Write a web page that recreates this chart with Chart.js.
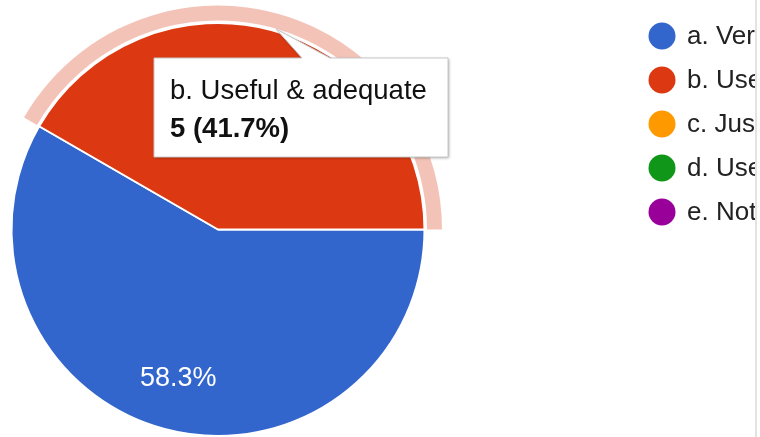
<!DOCTYPE html>
<html>
<head>
<meta charset="utf-8">
<script src="https://cdn.jsdelivr.net/npm/chart.js@4.4.1/dist/chart.umd.min.js"></script>
<style>
body { margin: 0; background: #fff; }
#wrap { position: relative; width: 755px; height: 437px; border-right: 2px solid #e2e2e2; overflow: hidden; }
</style>
</head>
<body>
<div id="wrap"><canvas id="pie" width="755" height="437"></canvas></div>
<script>
var labels = ['a. Very useful', 'b. Useful & adequate', 'c. Just adequate', 'd. Useful but inadequate', 'e. Not useful'];
var counts = [7, 5, 0, 0, 0];
var colors = ['#3366cc', '#dc3912', '#ff9900', '#109618', '#990099'];
var hoverSlice = 1; // slice shown as hovered, with its tooltip

var FONT = 'Arial, "Liberation Sans", sans-serif';

function total() {
    var t = 0;
    for (var i = 0; i < counts.length; i++) t += counts[i];
    return t;
}

// draws the google-style hover ring, slice labels, legend and tooltip
var extras = {
    id: 'extras',
    afterDatasetsDraw: function(chart) {
        var ctx = chart.ctx;
        var meta = chart.getDatasetMeta(0);
        var sum = total();
        ctx.save();

        // ring round the hovered slice
        var arc = meta.data[hoverSlice];
        var r = arc.outerRadius;
        ctx.beginPath();
        ctx.arc(arc.x, arc.y, r + 17.5, arc.startAngle, arc.endAngle);
        ctx.arc(arc.x, arc.y, r + 2.5, arc.endAngle, arc.startAngle, true);
        ctx.closePath();
        ctx.fillStyle = 'rgba(220,57,18,0.3)';
        ctx.fill();

        // percentages inside the slices
        ctx.fillStyle = '#fff';
        ctx.font = '27px ' + FONT;
        ctx.textAlign = 'center';
        ctx.textBaseline = 'middle';
        meta.data.forEach(function(a, i) {
            if (!counts[i]) return;
            var mid = (a.startAngle + a.endAngle) / 2;
            var d = a.outerRadius * 0.745;
            ctx.fillText((counts[i] / sum * 100).toFixed(1) + '%', a.x + Math.cos(mid) * d, a.y + Math.sin(mid) * d);
        });

        // legend
        ctx.textAlign = 'left';
        ctx.font = '26px ' + FONT;
        for (var i = 0; i < labels.length; i++) {
            var y = 36 + i * 44;
            ctx.beginPath();
            ctx.arc(662, y, 13.5, 0, Math.PI * 2);
            ctx.fillStyle = colors[i];
            ctx.fill();
            ctx.fillStyle = '#222';
            ctx.fillText(labels[i], 687, y + 1);
        }

        // tooltip
        var bx = 154, by = 58, bw = 294, bh = 99;
        ctx.beginPath();
        ctx.moveTo(bx, by);
        ctx.lineTo(302, by);
        ctx.lineTo(276, 29);
        ctx.lineTo(330, by);
        ctx.lineTo(bx + bw, by);
        ctx.lineTo(bx + bw, by + bh);
        ctx.lineTo(bx, by + bh);
        ctx.closePath();
        ctx.shadowColor = 'rgba(0,0,0,0.35)';
        ctx.shadowBlur = 3;
        ctx.shadowOffsetX = 1;
        ctx.shadowOffsetY = 1;
        ctx.fillStyle = '#fff';
        ctx.fill();
        ctx.shadowColor = 'transparent';
        ctx.strokeStyle = '#c8c8c8';
        ctx.lineWidth = 1;
        ctx.stroke();

        ctx.fillStyle = '#111';
        ctx.textBaseline = 'alphabetic';
        ctx.font = '27.5px ' + FONT;
        ctx.fillText(labels[hoverSlice], 170, 99);
        ctx.font = 'bold 27.5px ' + FONT;
        ctx.fillText(counts[hoverSlice] + ' (' + (counts[hoverSlice] / sum * 100).toFixed(1) + '%)', 170, 137);

        ctx.restore();
    }
};

new Chart(document.getElementById('pie'), {
    type: 'pie',
    data: {
        labels: labels,
        datasets: [{
            data: counts,
            backgroundColor: colors,
            hoverBackgroundColor: colors,
            borderColor: '#fff',
            hoverBorderColor: '#fff',
            borderWidth: 2,
            hoverOffset: 0
        }]
    },
    options: {
        responsive: false,
        animation: false,
        events: [],
        rotation: 90,
        layout: { padding: { left: 10.5, top: 22, right: 329.5, bottom: 0 } },
        plugins: {
            legend: { display: false },
            tooltip: { enabled: false }
        }
    },
    plugins: [extras]
});
</script>
</body>
</html>
